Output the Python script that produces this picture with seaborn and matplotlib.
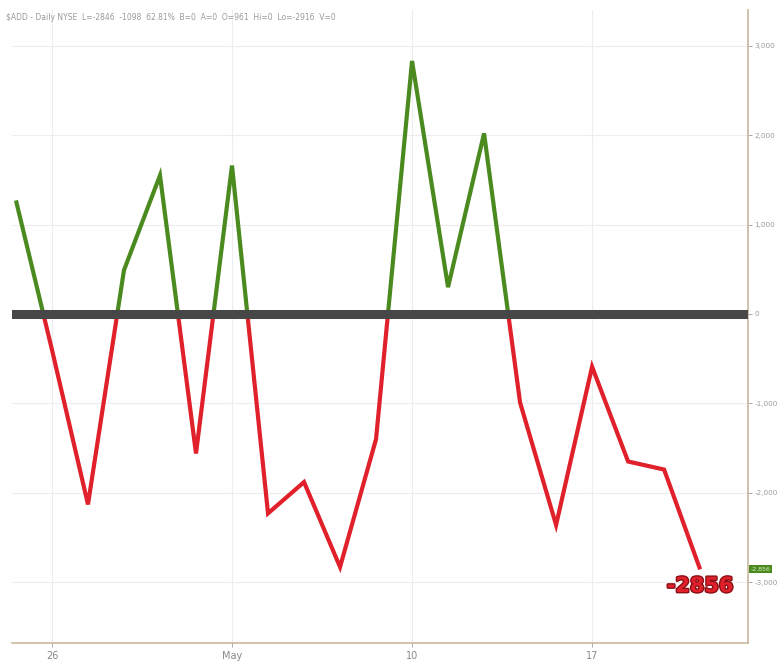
import numpy as np
import pandas as pd
import matplotlib
matplotlib.use("Agg")
import matplotlib.pyplot as plt
from matplotlib.patches import Rectangle
import matplotlib.patheffects as pe
import seaborn as sns

# ---- data ----
dates = ["Apr 23", "Apr 26", "Apr 27", "Apr 28", "Apr 29", "Apr 30",
         "May 3", "May 4", "May 5", "May 6", "May 7",
         "May 10", "May 11", "May 12", "May 13", "May 14",
         "May 17", "May 18", "May 19", "May 20"]
add_values = [1270, -400, -2130, 490, 1550, -1560,
              1660, -2230, -1880, -2830, -1400,
              2830, 300, 2020, -990, -2360,
              -590, -1650, -1740, -2856]
xtick_labels = ["26", "May", "10", "17"]
xtick_dates = ["Apr 26", "May 3", "May 10", "May 17"]
ytick_values = [3000, 2000, 1000, 0, -1000, -2000, -3000]
title_text = "$ADD - Daily NYSE  L=-2846  -1098  62.81%  B=0  A=0  O=961  Hi=0  Lo=-2916  V=0"
last_label = "-2856"

df = pd.DataFrame({"day": np.arange(len(dates)), "date": dates, "value": add_values})

sns.set_theme(style="white")
plt.rcParams["font.family"] = ["DejaVu Sans"]

fig = plt.figure(figsize=(7.8, 6.62), dpi=100)
ax = fig.add_axes([12 / 780, 19 / 662, (748 - 12) / 780, (643 - 10) / 662])

x_lo, x_hi = -0.11, 20.33
y_lo, y_hi = -3680, 3400
ax.set_xlim(x_lo, x_hi)
ax.set_ylim(y_lo, y_hi)

# grid
for v in ytick_values:
    ax.axhline(v, color="#ededed", lw=0.8, zorder=0)
for d in xtick_dates:
    ax.axvline(dates.index(d), color="#ededed", lw=0.8, zorder=0)

green = "#4b8a1f"
red = "#e0202a"

sns.lineplot(data=df, x="day", y="value", color=green, lw=3.0, ax=ax, zorder=3)
sns.lineplot(data=df, x="day", y="value", color=red, lw=3.0, ax=ax, zorder=3)
lines = ax.get_lines()
up_clip = Rectangle((x_lo - 5, 0), (x_hi - x_lo) + 10, 10000, transform=ax.transData)
dn_clip = Rectangle((x_lo - 5, -10000), (x_hi - x_lo) + 10, 10000, transform=ax.transData)
lines[-2].set_clip_path(up_clip)
lines[-1].set_clip_path(dn_clip)
for ln in lines[-2:]:
    ln.set_solid_capstyle("butt")
    ln.set_solid_joinstyle("miter")

# zero line
ax.axhline(0, color="#474747", lw=6.5, zorder=4)

# axes styling
for s in ["top", "left"]:
    ax.spines[s].set_visible(False)
ax.spines["right"].set_color("#c9b79f")
ax.spines["bottom"].set_color("#c9b79f")
ax.spines["right"].set_linewidth(1.2)
ax.spines["bottom"].set_linewidth(1.2)

ax.yaxis.tick_right()
ax.set_yticks(ytick_values)
ax.set_yticklabels([f"{v:,}" for v in ytick_values], fontsize=5.2, color="#9a9a9a")
ax.tick_params(axis="y", length=3, width=0.6, color="#9a9a9a", pad=1.5, right=True)
ax.set_xticks([dates.index(d) for d in xtick_dates])
ax.set_xticklabels(xtick_labels, fontsize=7, color="#888888")
ax.tick_params(axis="x", length=3, width=0.6, color="#9a9a9a", pad=3, bottom=True)
ax.set_xlabel("")
ax.set_ylabel("")

# header text
fig.text(6 / 780, 1 - 18 / 662, title_text, fontsize=5.5, color="#9a9a9a", va="center", ha="left")

# last value label
ax.annotate(last_label, xy=(df["day"].iloc[-1], df["value"].iloc[-1]),
            xytext=(0, -12), textcoords="offset points", ha="center", va="center",
            fontsize=15, fontweight="bold", color=red, zorder=6,
            path_effects=[pe.withStroke(linewidth=2, foreground="#8a1016")])

# right-axis green value box
ax.annotate(f"{add_values[-1]:,}", xy=(1.0, add_values[-1]), xycoords=("axes fraction", "data"),
            xytext=(2, 0), textcoords="offset points", ha="left", va="center",
            fontsize=4.5, color="#d8f0c0",
            bbox=dict(boxstyle="square,pad=0.25", fc="#4b8a1f", ec="none"),
            annotation_clip=False)

fig.savefig("out.png", dpi=100, facecolor="white")
